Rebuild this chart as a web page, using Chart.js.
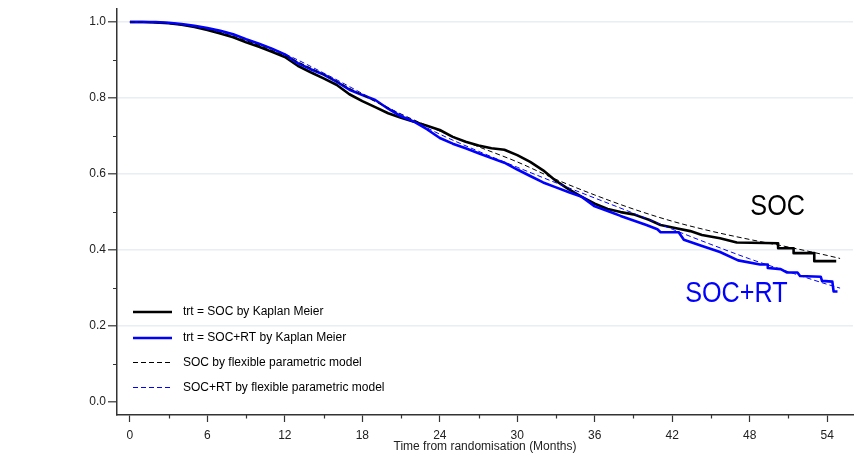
<!DOCTYPE html>
<html>
<head>
<meta charset="utf-8">
<title>Survival by treatment arm</title>
<script src="https://cdn.jsdelivr.net/npm/chart.js@4.4.1/dist/chart.umd.min.js"></script>
<style>
  html, body { margin: 0; padding: 0; background: #fff; }
  #wrap { width: 854px; height: 454px; }
</style>
</head>
<body>
<div id="wrap"><canvas id="survChart" width="854" height="454"></canvas></div>
<script>
// Kaplan Meier, SOC arm: curve vertices (months, survival); repeated months are the drops
const socKmTime = [0, 1, 2, 3, 4, 5, 6, 7, 8, 9, 10, 11, 12, 13, 14, 15, 16, 17, 18, 19, 20, 21, 22, 23, 24,
  25, 26, 27, 28, 29, 30, 31, 32, 33, 34, 35, 36, 37, 38, 39, 40.2, 41.1, 42.4, 43.4, 44.3, 45.7, 47,
  50.2, 50.2, 51.4, 51.4, 53, 53, 54.7];
const socKmSurv = [1, 1, 0.999, 0.997, 0.993, 0.987, 0.979, 0.97, 0.96, 0.947, 0.935, 0.922, 0.908, 0.885, 0.868,
  0.852, 0.835, 0.81, 0.792, 0.776, 0.76, 0.748, 0.738, 0.727, 0.716, 0.698, 0.685, 0.675, 0.668, 0.664, 0.65,
  0.632, 0.61, 0.582, 0.56, 0.54, 0.522, 0.508, 0.5, 0.494, 0.48, 0.466, 0.457, 0.45, 0.44, 0.431, 0.42,
  0.418, 0.405, 0.405, 0.392, 0.392, 0.371, 0.371];

// Kaplan Meier, SOC+RT arm
const rtKmTime = [0, 1, 2, 3, 4, 5, 6, 7, 8, 9, 10, 11, 12, 13, 14, 15, 16, 17, 18, 19, 20, 21, 22, 23, 24,
  25, 26, 27, 28, 29, 30, 31, 32, 33, 34, 35, 36, 37, 38, 39, 40, 40.85, 41.1, 42.5, 42.9, 44.2, 45.7, 47.1,
  48.8, 49.4, 49.4, 50.4, 50.9, 51.7, 51.9, 53.5, 53.6, 54.4, 54.5, 54.8];
const rtKmSurv = [1, 1, 1, 0.998, 0.995, 0.99, 0.984, 0.977, 0.968, 0.955, 0.943, 0.93, 0.915, 0.892, 0.876,
  0.862, 0.843, 0.822, 0.808, 0.795, 0.772, 0.752, 0.738, 0.718, 0.695, 0.68, 0.668, 0.655, 0.642, 0.63,
  0.612, 0.595, 0.578, 0.565, 0.552, 0.54, 0.515, 0.503, 0.49, 0.478, 0.466, 0.455, 0.447, 0.447, 0.427,
  0.412, 0.395, 0.373, 0.362, 0.362, 0.353, 0.35, 0.341, 0.341, 0.332, 0.33, 0.319, 0.317, 0.291, 0.291];

// flexible parametric model fits
const fpmTime = [0, 3, 6, 9, 12, 15, 18, 21, 24, 27, 30, 33, 36, 39, 42, 45, 48, 51, 54, 55];
const socFpm = [1, 0.996, 0.981, 0.951, 0.911, 0.862, 0.808, 0.758, 0.713, 0.672, 0.632, 0.586, 0.545,
  0.508, 0.476, 0.45, 0.428, 0.408, 0.386, 0.378];
const rtFpm = [1, 0.997, 0.983, 0.955, 0.916, 0.866, 0.812, 0.757, 0.705, 0.66, 0.618, 0.577, 0.537,
  0.497, 0.455, 0.415, 0.377, 0.343, 0.31, 0.3];

// axis ticks
const xTickValues = [0, 3, 6, 9, 12, 15, 18, 21, 24, 27, 30, 33, 36, 39, 42, 45, 48, 51, 54];
const yTickValues = [0, 0.1, 0.2, 0.3, 0.4, 0.5, 0.6, 0.7, 0.8, 0.9, 1.0];

const FONT = '"Liberation Sans", Arial, sans-serif';
const BLUE = '#0000ff';

const toPoints = (xs, ys) => xs.map((x, i) => ({ x, y: ys[i] }));
const isMajorX = v => v % 6 === 0;
const isMajorY = v => Math.round(v * 10) % 2 === 0;

/** Legenda di dalam area plot, garis pendek + teks */
const insideLegend = {
  id: 'insideLegend',
  afterDraw(chart) {
    const { ctx, chartArea } = chart;
    const rows = [103, 77, 52.5, 27.5];
    ctx.save();
    chart.data.datasets.forEach((ds, i) => {
      const y = chartArea.bottom - rows[i];
      ctx.beginPath();
      ctx.strokeStyle = ds.borderColor;
      ctx.lineWidth = ds.borderDash ? 1 : 2.6;
      ctx.setLineDash(ds.borderDash || []);
      ctx.moveTo(chartArea.left + 16, y);
      ctx.lineTo(chartArea.left + 55, y);
      ctx.stroke();
      ctx.setLineDash([]);
      ctx.fillStyle = '#000';
      ctx.font = '12px ' + FONT;
      ctx.textBaseline = 'middle';
      ctx.fillText(ds.label, chartArea.left + 66, y);
    });
    ctx.restore();
  }
};

/** Label besar "SOC" dan "SOC+RT" di dekat ujung kurva */
const curveLabels = {
  id: 'curveLabels',
  afterDraw(chart, args, opts) {
    const { ctx, scales } = chart;
    ctx.save();
    ctx.font = '30px ' + FONT;
    ctx.textBaseline = 'middle';
    opts.items.forEach(it => {
      const px = scales.x.getPixelForValue(it.x);
      const py = scales.y.getPixelForValue(it.y);
      ctx.save();
      ctx.translate(px, py);
      ctx.scale(0.84, 1);
      ctx.fillStyle = it.color;
      ctx.fillText(it.text, 0, 0);
      ctx.restore();
    });
    ctx.restore();
  }
};

/** Tick minor lebih pendek dari tick mayor */
const minorTicks = {
  id: 'minorTicks',
  afterDraw(chart) {
    const { ctx, scales, chartArea } = chart;
    ctx.save();
    ctx.strokeStyle = '#333';
    ctx.lineWidth = 1.2;
    ctx.beginPath();
    xTickValues.filter(v => !isMajorX(v)).forEach(v => {
      const px = Math.round(scales.x.getPixelForValue(v)) + 0.5;
      ctx.moveTo(px, chartArea.bottom);
      ctx.lineTo(px, chartArea.bottom + 3.5);
    });
    yTickValues.filter(v => !isMajorY(v)).forEach(v => {
      const py = Math.round(scales.y.getPixelForValue(v)) + 0.5;
      ctx.moveTo(chartArea.left, py);
      ctx.lineTo(chartArea.left - 4, py);
    });
    ctx.stroke();
    ctx.restore();
  }
};

new Chart(document.getElementById('survChart'), {
  type: 'line',
  data: {
    datasets: [
      {
        label: 'trt = SOC by Kaplan Meier',
        data: toPoints(socKmTime, socKmSurv),
        borderColor: '#000',
        borderWidth: 2.6,
        borderJoinStyle: 'round',
        order: 3,
      },
      {
        label: 'trt = SOC+RT by Kaplan Meier',
        data: toPoints(rtKmTime, rtKmSurv),
        borderColor: BLUE,
        borderWidth: 2.6,
        borderJoinStyle: 'round',
        order: 2,
      },
      {
        label: 'SOC by flexible parametric model',
        data: toPoints(fpmTime, socFpm),
        borderColor: '#000',
        borderWidth: 1,
        borderDash: [5, 3],
        cubicInterpolationMode: 'monotone',
        order: 1,
      },
      {
        label: 'SOC+RT by flexible parametric model',
        data: toPoints(fpmTime, rtFpm),
        borderColor: BLUE,
        borderWidth: 1,
        borderDash: [5, 3],
        cubicInterpolationMode: 'monotone',
        order: 0,
      },
    ],
  },
  options: {
    responsive: false,
    animation: false,
    elements: { point: { radius: 0 }, line: { fill: false, tension: 0 } },
    layout: { padding: { top: 4, right: 1, left: 0, bottom: 0 } },
    plugins: {
      legend: { display: false },
      tooltip: { enabled: false },
      curveLabels: {
        items: [
          { text: 'SOC', x: 48.05, y: 0.513, color: '#000' },
          { text: 'SOC+RT', x: 43.0, y: 0.284, color: BLUE },
        ],
      },
    },
    scales: {
      x: {
        type: 'linear',
        min: -1,
        max: 56,
        afterBuildTicks: s => { s.ticks = xTickValues.map(v => ({ value: v })); },
        afterFit: s => { s.height = 39; },
        border: { color: '#333', width: 1.5 },
        grid: {
          drawOnChartArea: false,
          tickLength: 7,
          tickColor: c => (isMajorX(c.tick.value) ? '#333' : 'transparent'),
          tickWidth: 1.2,
        },
        ticks: {
          autoSkip: false,
          maxRotation: 0,
          padding: 6,
          color: '#222',
          font: { family: FONT, size: 12 },
          callback: v => (isMajorX(v) ? String(v) : ''),
        },
        title: {
          display: true,
          text: 'Time from randomisation (Months)',
          color: '#222',
          font: { family: FONT, size: 12 },
          padding: { top: 0, bottom: 0 },
        },
      },
      y: {
        type: 'linear',
        min: -0.0338,
        max: 1.0338,
        afterBuildTicks: s => { s.ticks = yTickValues.map(v => ({ value: v })); },
        afterFit: s => { s.width = 117; },
        border: { color: '#333', width: 1.5 },
        grid: {
          color: c => (c.tick && isMajorY(c.tick.value) && c.tick.value > 0 ? '#e8eef3' : 'transparent'),
          lineWidth: 1.6,
          tickLength: 9,
          tickColor: c => (isMajorY(c.tick.value) ? '#333' : 'transparent'),
          tickWidth: 1.2,
        },
        ticks: {
          autoSkip: false,
          padding: 2,
          color: '#222',
          font: { family: FONT, size: 12 },
          callback: v => (isMajorY(v) ? v.toFixed(1) : ''),
        },
      },
    },
  },
  plugins: [insideLegend, curveLabels, minorTicks],
});
</script>
</body>
</html>
